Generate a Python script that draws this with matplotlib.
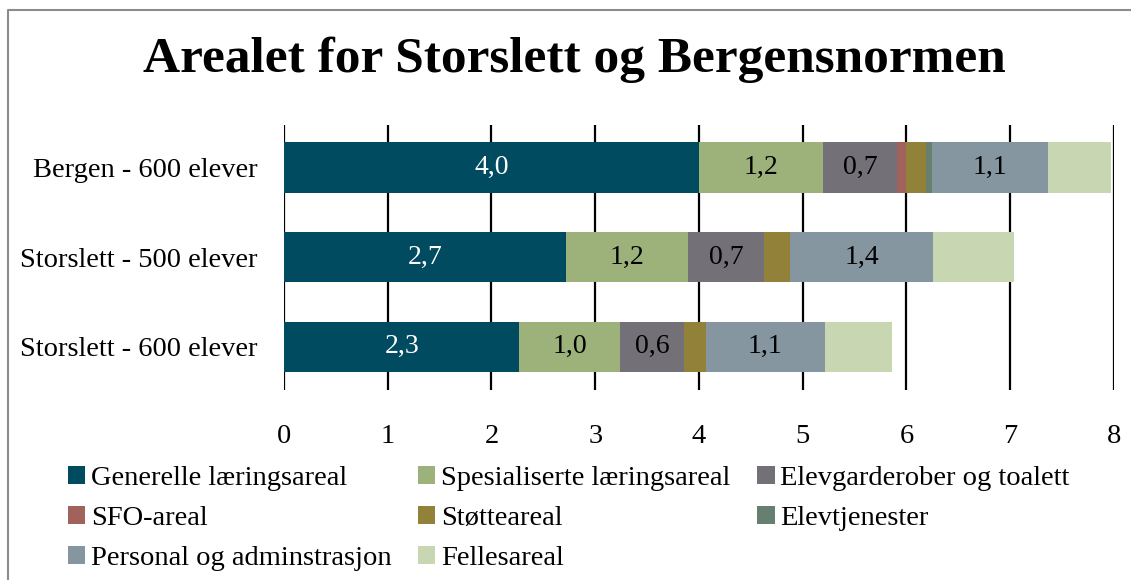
import numpy as np
import matplotlib.pyplot as plt
from matplotlib.lines import Line2D

plt.rcParams['font.family'] = ['Liberation Serif', 'DejaVu Serif']

# Skoler (nederst -> øverst)
skoler = ["Storslett - 600 elever", "Storslett - 500 elever", "Bergen - 600 elever"]

kategorier = ["Generelle læringsareal", "Spesialiserte læringsareal",
              "Elevgarderober og toalett", "SFO-areal", "Støtteareal",
              "Elevtjenester", "Personal og adminstrasjon", "Fellesareal"]

# areal per elev (m2), lest av figuren
generelle = [2.27, 2.72, 4.0]
spesialiserte = [0.97, 1.17, 1.2]
garderober = [0.62, 0.74, 0.71]
sfo = [0.0, 0.0, 0.09]
stotte = [0.21, 0.25, 0.19]
elevtjenester = [0.0, 0.0, 0.06]
personal = [1.14, 1.38, 1.11]
felles = [0.65, 0.78, 0.61]

serier = [generelle, spesialiserte, garderober, sfo, stotte,
          elevtjenester, personal, felles]
farger = ["#004B5F", "#9CB27A", "#737077", "#A0625B", "#928138",
          "#667F71", "#8596A0", "#C8D7B1"]
# hvilke serier som har verdietiketter
med_etikett = [True, True, True, False, False, False, True, False]
etikettfarge = ["white", "black", "black", None, None, None, "black", None]

fig = plt.figure(figsize=(11.31, 5.80), dpi=100)
ax = fig.add_axes([0.251, 0.328, 0.734, 0.456])

y = np.arange(len(skoler))
venstre = np.zeros(len(skoler))
handles = []
for i, verdier in enumerate(serier):
    verdier = np.array(verdier)
    b = ax.barh(y, verdier, left=venstre, height=0.56, color=farger[i],
                label=kategorier[i], zorder=3)
    handles.append(b)
    if med_etikett[i]:
        for yy, v, l in zip(y, verdier, venstre):
            ax.text(l + v / 2, yy, f"{v:.1f}".replace(".", ","),
                    ha="center", va="center", fontsize=20,
                    color=etikettfarge[i], zorder=4)
    venstre = venstre + verdier

ax.set_xlim(0, 8)
ax.set_ylim(-0.48, 2.47)
ax.set_xticks(range(9))
ax.set_yticks(y)
ax.set_yticklabels(skoler, fontsize=20.5)
ax.tick_params(axis="x", labelsize=20.5, length=0, pad=25)
ax.tick_params(axis="y", length=0, pad=19)
for s in ax.spines.values():
    s.set_visible(False)
ax.grid(axis="x", color="black", linewidth=1.6, zorder=0)
ax.set_axisbelow(True)

fig.text(0.508, 0.897, "Arealet for Storslett og Bergensnormen",
         ha="center", va="center", fontsize=37, fontweight="bold")

# legenden fylles kolonnevis, så rekkefølgen stokkes om
rekkefolge = [0, 3, 6, 1, 4, 7, 2, 5]
fig.legend([handles[k] for k in rekkefolge], [kategorier[k] for k in rekkefolge],
           ncol=3, loc="upper left", bbox_to_anchor=(0.05, 0.217),
           frameon=False, fontsize=20.5, handlelength=0.6, handleheight=0.6,
           handletextpad=0.2, columnspacing=0.95, labelspacing=0.53,
           borderaxespad=0)

# ramme (bare venstre og øvre kant synlig)
x0, y1 = 8 / 1131, 1 - 10 / 580
fig.lines.append(Line2D([x0, x0, 1.0], [0.0, y1, y1], transform=fig.transFigure,
                        color="#8C8C8C", linewidth=1.5))

fig.savefig("out.png", dpi=100)
